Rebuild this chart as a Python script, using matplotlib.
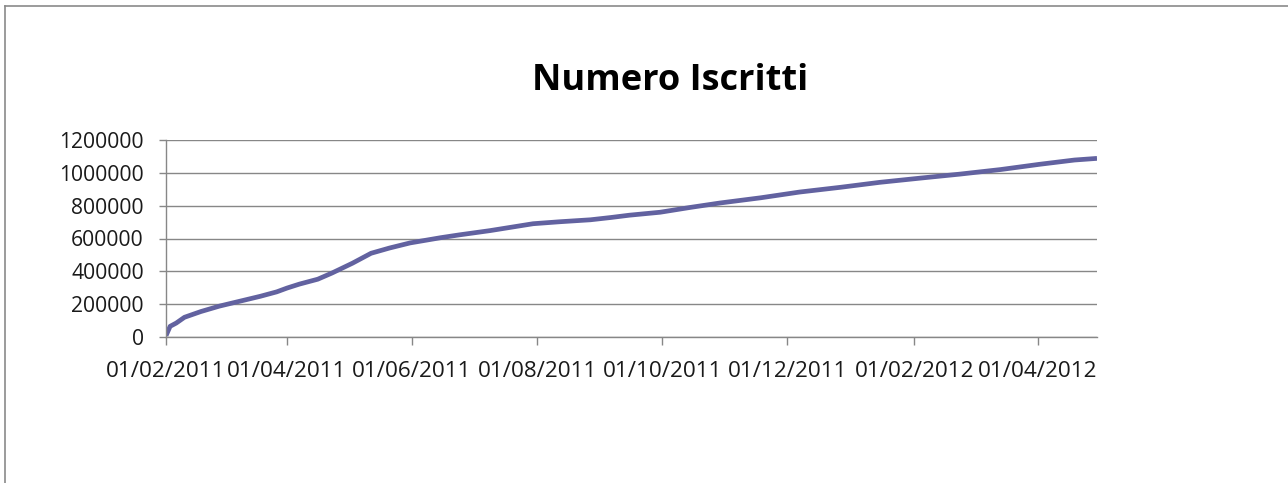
import matplotlib
matplotlib.use("Agg")
import matplotlib.pyplot as plt
import matplotlib.dates as mdates
from matplotlib.lines import Line2D
import numpy as np

# Data
dates = ["2011-02-01", "2011-02-03", "2011-02-06", "2011-02-10", "2011-02-18",
         "2011-02-27", "2011-03-09", "2011-03-19", "2011-03-27", "2011-04-01",
         "2011-04-07", "2011-04-16", "2011-04-23", "2011-05-03", "2011-05-12",
         "2011-05-21", "2011-05-31", "2011-06-15", "2011-06-24", "2011-07-09",
         "2011-07-30", "2011-08-12", "2011-08-27", "2011-09-06", "2011-09-15",
         "2011-09-30", "2011-10-15", "2011-10-29", "2011-11-18", "2011-12-07",
         "2011-12-27", "2012-01-15", "2012-02-04", "2012-02-23", "2012-03-14",
         "2012-04-02", "2012-04-19", "2012-04-30"]
iscritti = [8000, 65000, 85000, 120000, 155000,
            188000, 218000, 248000, 275000, 298000,
            322000, 352000, 390000, 450000, 510000,
            542000, 573000, 605000, 622000, 648000,
            690000, 702000, 714000, 728000, 742000,
            760000, 790000, 816000, 848000, 883000,
            912000, 942000, 968000, 992000, 1020000,
            1052000, 1078000, 1088000]
y_ticks = [0, 200000, 400000, 600000, 800000, 1000000, 1200000]

x = np.array(dates, dtype="datetime64[D]")

W, H = 1288, 483
fig = plt.figure(figsize=(W / 100, H / 100), dpi=100)
plt.rcParams['font.family'] = ['Open Sans', 'DejaVu Sans']

ax = fig.add_axes([166 / W, 1 - 337 / H, (1097 - 166) / W, (337 - 140) / H])
ax.plot(x, iscritti, color='#6262A0', lw=3.4, solid_capstyle='butt')

grid_c = '#878787'
ax.set_ylim(0, 1200000)
ax.set_yticks(y_ticks)
ax.set_yticklabels([str(v) for v in y_ticks])
ax.set_xlim(np.datetime64("2011-02-01"), np.datetime64("2012-04-30"))
ax.xaxis.set_major_locator(mdates.MonthLocator(bymonth=[2, 4, 6, 8, 10, 12], bymonthday=1))
ax.xaxis.set_major_formatter(mdates.DateFormatter('%d/%m/%Y'))

ax.grid(axis='y', color=grid_c, lw=1)
ax.set_axisbelow(True)
for s in ['top', 'right']:
    ax.spines[s].set_visible(False)
for s in ['left', 'bottom']:
    ax.spines[s].set_color(grid_c)
    ax.spines[s].set_linewidth(1)

ax.tick_params(axis='y', length=5, width=1, color=grid_c, pad=11, labelsize=15.2, labelcolor='#1a1a1a')
ax.tick_params(axis='x', length=6, width=1, color=grid_c, pad=11, labelsize=16.2, labelcolor='#1a1a1a')

fig.text(670 / W, 1 - 81 / H, "Numero Iscritti", ha='center', va='center',
         fontsize=26, fontweight='bold', color='black')

# outer chart frame (cut off at right and bottom)
fc = '#8a8a8a'
fig.add_artist(Line2D([4.5 / W, 1.01], [1 - 5.5 / H, 1 - 5.5 / H], color=fc, lw=1.2))
fig.add_artist(Line2D([4.5 / W, 4.5 / W], [1 - 5.5 / H, -0.01], color=fc, lw=1.2))

fig.savefig("out.png", dpi=100)
